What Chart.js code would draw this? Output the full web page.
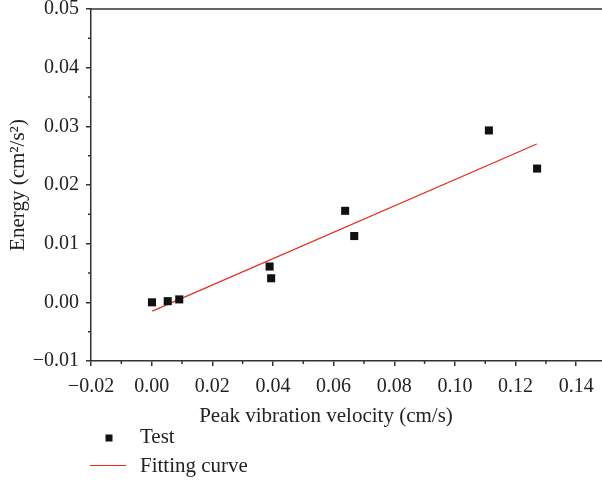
<!DOCTYPE html>
<html>
<head>
<meta charset="utf-8">
<script src="https://cdn.jsdelivr.net/npm/chart.js@4/dist/chart.umd.min.js"></script>
<style>
  body { margin: 0; background: #fff; }
</style>
</head>
<body>
<canvas id="energyChart" width="602" height="481"></canvas>
<script>
// measured test points
const testX = [0.0001, 0.0053, 0.0091, 0.0389, 0.0394, 0.0638, 0.0668, 0.1112, 0.1271];
const testY = [0.0000, 0.0002, 0.0005, 0.0061, 0.0041, 0.0156, 0.0113, 0.0293, 0.0228];
// fitted line end points
const fitX = [0.0002, 0.1270];
const fitY = [-0.0015, 0.0270];
// axis ticks
const xTicks = [-0.02, 0, 0.02, 0.04, 0.06, 0.08, 0.10, 0.12, 0.14];
const yTicks = [-0.01, 0, 0.01, 0.02, 0.03, 0.04, 0.05];
const xMinor = [-0.01, 0.01, 0.03, 0.05, 0.07, 0.09, 0.11, 0.13];
const yMinor = [-0.005, 0.005, 0.015, 0.025, 0.035, 0.045];
const xTitle = 'Peak vibration velocity (cm/s)';

const FONT = 'Liberation Serif';
const AXIS = '#333';
const TEXT = '#222';

// minor ticks, top frame line, x title (off-centre in the original) and the stacked legend
const extras = {
  id: 'extras',
  afterDraw(chart) {
    const ctx = chart.ctx;
    const area = chart.chartArea;
    const x = chart.scales.x, y = chart.scales.y;
    ctx.save();
    ctx.strokeStyle = AXIS;
    ctx.lineWidth = 1.5;
    ctx.beginPath();
    xMinor.forEach(v => {
      const px = x.getPixelForValue(v);
      ctx.moveTo(px, area.bottom);
      ctx.lineTo(px, area.bottom + 3);
    });
    yMinor.forEach(v => {
      const py = y.getPixelForValue(v);
      ctx.moveTo(area.left, py);
      ctx.lineTo(area.left - 3, py);
    });
    ctx.moveTo(area.left, area.top);
    ctx.lineTo(area.right, area.top);
    ctx.stroke();

    ctx.font = '21px "' + FONT + '"';
    ctx.fillStyle = TEXT;
    ctx.textBaseline = 'middle';
    ctx.textAlign = 'center';
    ctx.fillText(xTitle, 326, 416);

    // legend
    const ds = chart.data.datasets;
    ctx.textAlign = 'left';
    ctx.fillText(ds[0].label, 140, 437);
    ctx.fillText(ds[1].label, 140, 466);
    ctx.fillStyle = ds[0].backgroundColor;
    ctx.fillRect(105.5, 434.5, 7, 7);
    ctx.strokeStyle = ds[1].borderColor;
    ctx.lineWidth = 1.2;
    ctx.beginPath();
    ctx.moveTo(90, 465.5);
    ctx.lineTo(126, 465.5);
    ctx.stroke();
    ctx.restore();
  }
};

new Chart(document.getElementById('energyChart'), {
  type: 'scatter',
  data: {
    datasets: [{
      label: 'Test',
      data: testX.map((v, i) => ({ x: v, y: testY[i] })),
      pointStyle: 'rect',
      pointRadius: 5.7,
      pointBorderWidth: 0,
      backgroundColor: '#111',
      borderColor: '#111'
    }, {
      label: 'Fitting curve',
      data: fitX.map((v, i) => ({ x: v, y: fitY[i] })),
      showLine: true,
      pointRadius: 0,
      borderColor: '#e8291c',
      borderWidth: 1.2
    }]
  },
  options: {
    responsive: false,
    animation: false,
    layout: { autoPadding: false, padding: { top: 9, right: 0, bottom: 52, left: 0 } },
    plugins: {
      legend: { display: false },
      tooltip: { enabled: false }
    },
    scales: {
      x: {
        min: -0.02,
        max: 0.1485,
        afterBuildTicks: axis => { axis.ticks = xTicks.map(v => ({ value: v })); },
        afterFit: axis => {
          axis.height = 68;
          axis.paddingLeft = 0;
          axis.paddingRight = 0;
        },
        grid: { drawOnChartArea: false, tickLength: 5, color: AXIS, lineWidth: 1.5 },
        border: { color: AXIS, width: 1.5 },
        ticks: {
          color: TEXT,
          padding: 9,
          maxRotation: 0,
          font: { family: FONT, size: 20 },
          callback: v => v.toFixed(2).replace('-', '\u2212')
        }
      },
      y: {
        min: -0.01,
        max: 0.05,
        afterBuildTicks: axis => { axis.ticks = yTicks.map(v => ({ value: v })); },
        afterFit: axis => {
          axis.width = 91;
          axis.paddingTop = 0;
          axis.paddingBottom = 0;
        },
        grid: { drawOnChartArea: false, tickLength: 5, color: AXIS, lineWidth: 1.5 },
        border: { color: AXIS, width: 1.5 },
        ticks: {
          color: TEXT,
          padding: 7,
          font: { family: FONT, size: 20 },
          callback: v => v.toFixed(2).replace('-', '\u2212')
        },
        title: {
          display: true,
          text: 'Energy (cm\u00b2/s\u00b2)',
          color: TEXT,
          font: { family: FONT, size: 21 },
          padding: { top: 5.5, bottom: 0 }
        }
      }
    }
  },
  plugins: [extras]
});
</script>
</body>
</html>
